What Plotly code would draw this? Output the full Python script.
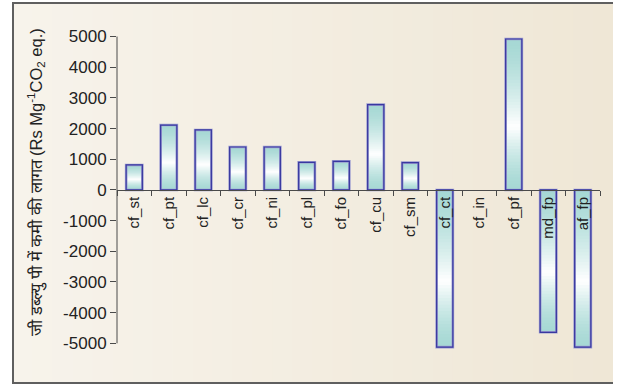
import plotly.graph_objects as go

# Abatement options and their cost of GWP reduction (Rs per Mg CO2 eq.)
categories = ["cf_st", "cf_pt", "cf_lc", "cf_cr", "cf_ni", "cf_pl", "cf_fo",
              "cf_cu", "cf_sm", "cf_ct", "cf_in", "cf_pf", "md_fp", "af_fp"]
cost = [815, 2115, 1955, 1400, 1400, 900, 930, 2780, 890, -5125, 0, 4920, -4640, -5125]

y_ticks = [5000, 4000, 3000, 2000, 1000, 0, -1000, -2000, -3000, -4000, -5000]
y_tick_labels = ["5000", "4000", "3000", "2000", "1000", "0",
                 "-1000", "-2000", "-3000", "-4000", "-5000"]

y_title = "जी डब्ल्यु पी में कमी की लागत (Rs Mg<sup>-1</sup>CO<sub>2</sub> eq.)"

Y_RANGE = [-5250, 5050]
BAR_W = 0.47
N_STEPS = 48

TEAL = (166, 216, 212)
WHITE = (255, 255, 255)


def shade(t):
    """Teal at both ends of a bar, white in the middle (t = 0 top, 1 bottom)."""
    mid = 0.58
    if t <= mid:
        f = t / mid
    else:
        f = (1 - t) / (1 - mid)
    f = max(0.0, min(1.0, f)) ** 1.5
    r, g, b = (round(a + (w - a) * f) for a, w in zip(TEAL, WHITE))
    return f"rgb({r},{g},{b})"


fig = go.Figure()

# Vertical gradient fill: each layer starts a bit further from zero and
# runs to the bar end, so later layers cover the earlier ones.
for k in range(N_STEPS):
    base = [v * k / N_STEPS for v in cost]
    length = [v * (N_STEPS - k) / N_STEPS for v in cost]
    colors = []
    for v in cost:
        pos = (k + 0.5) / N_STEPS
        colors.append(shade(1 - pos if v > 0 else pos))
    fig.add_bar(x=categories, y=length, base=base, width=BAR_W,
                marker=dict(color=colors, line_width=0),
                hoverinfo="skip", showlegend=False)

# Outlines: soft lavender halo under a dark blue edge (none for zero bars)
halo_w = [2.6 if v != 0 else 0 for v in cost]
edge_w = [1.2 if v != 0 else 0 for v in cost]
fig.add_bar(x=categories, y=cost, width=BAR_W,
            marker=dict(color="rgba(0,0,0,0)", line=dict(color="#9a9ad0", width=halo_w)),
            hoverinfo="skip", showlegend=False)
fig.add_bar(x=categories, y=cost, width=BAR_W,
            marker=dict(color="rgba(0,0,0,0)", line=dict(color="#3838a0", width=edge_w)),
            showlegend=False)

# Panel geometry in pixels (plot area spans x 117..600, y 35..351)
L, R, T, B = 117, 600, 35, 351
W, H = R - L, B - T


def px_x(p):
    return (p - L) / W


def px_y(p):
    return (B - p) / H


shapes = []
# Warm beige panel with a gentle left-to-right gradient
n_strips = 30
x_left, x_right = 12, 613
c0, c1 = (247, 243, 235), (239, 231, 214)
for i in range(n_strips):
    f = i / (n_strips - 1)
    col = "rgb({},{},{})".format(*(round(a + (b - a) * f) for a, b in zip(c0, c1)))
    xa = x_left + (x_right - x_left) * i / n_strips
    xb = x_left + (x_right - x_left) * (i + 1) / n_strips + 0.6
    shapes.append(dict(type="rect", xref="paper", yref="paper", layer="below",
                       x0=px_x(xa), x1=px_x(min(xb, x_right)), y0=px_y(383), y1=px_y(3),
                       fillcolor=col, line_width=0))
# Frame edges (left, top, bottom)
frame = dict(type="line", xref="paper", yref="paper", line=dict(color="#5f5f5f", width=2))
shapes.append({**frame, "x0": px_x(13), "x1": px_x(13), "y0": px_y(383), "y1": px_y(3)})
shapes.append({**frame, "x0": px_x(12), "x1": px_x(613), "y0": px_y(3), "y1": px_y(3)})
shapes.append({**frame, "x0": px_x(12), "x1": px_x(613), "y0": px_y(383), "y1": px_y(383)})
# Y axis line spanning the labelled range only
shapes.append(dict(type="line", xref="paper", yref="y", x0=0, x1=0,
                   y0=y_ticks[-1], y1=y_ticks[0], line=dict(color="#4a4a4a", width=1)))

fig.update_layout(
    width=621, height=387,
    margin=dict(l=L, r=621 - R, t=T, b=387 - B),
    paper_bgcolor="white",
    plot_bgcolor="rgba(0,0,0,0)",
    barmode="overlay",
    font=dict(family="Arial, Liberation Sans, sans-serif", color="#222222"),
    shapes=shapes,
    xaxis=dict(
        type="category", range=[-0.5, len(categories) - 0.5],
        anchor="free", position=(0 - Y_RANGE[0]) / (Y_RANGE[1] - Y_RANGE[0]),
        showline=True, linecolor="#4a4a4a", linewidth=1,
        ticks="outside", tickson="boundaries", ticklen=5, tickcolor="#4a4a4a",
        tickangle=-90, tickfont=dict(size=15), showgrid=False, zeroline=False,
    ),
    yaxis=dict(
        range=Y_RANGE, tickvals=y_ticks, ticktext=y_tick_labels,
        ticks="outside", ticklen=6, tickcolor="#4a4a4a",
        tickfont=dict(size=17), showline=False, showgrid=False, zeroline=False,
    ),
    annotations=[dict(
        text=y_title, textangle=-90, showarrow=False,
        xref="paper", yref="paper", x=px_x(36), y=px_y(182),
        xanchor="center", yanchor="middle",
        font=dict(size=16.5, color="#222222"),
    )],
)

fig.write_html("out.html")
